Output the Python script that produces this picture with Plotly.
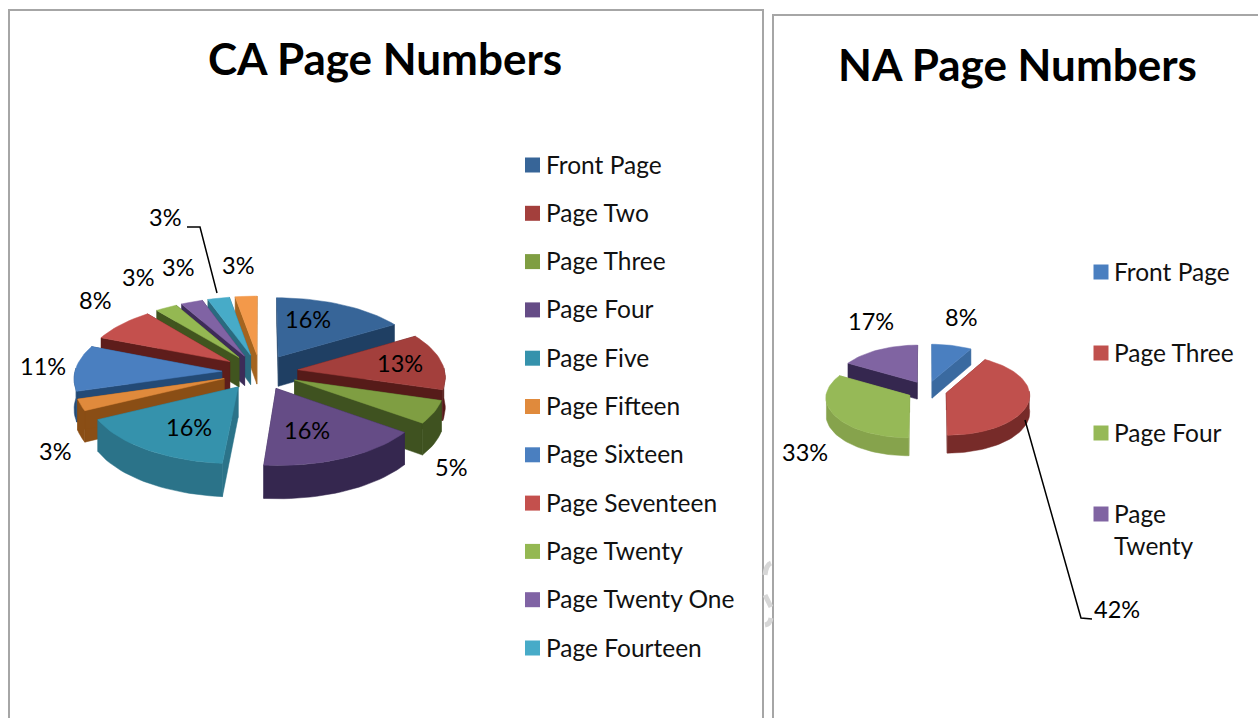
import math
import plotly.graph_objects as go

# ---- data ----
ca_title = "CA Page Numbers"
ca_categories = ["Front Page", "Page Two", "Page Three", "Page Four", "Page Five", "Page Fifteen",
                 "Page Sixteen", "Page Seventeen", "Page Twenty", "Page Twenty One", "Page Fourteen"]
ca_last_slice = "Other page"          # twelfth slice: its legend row is cut off in the reference
ca_values = [16.3, 13.4, 5.4, 16.3, 16.3, 2.7, 10.8, 8.1, 2.7, 2.7, 2.7, 2.7]

na_title = "NA Page Numbers"
na_categories = ["Front Page", "Page Three", "Page Four", "Page Twenty"]
na_values = [8.3, 41.7, 33.3, 16.7]

# ---- styles ----
FONT = "Lato"
ca_top = ["#376598", "#A33F3C", "#7F9E42", "#654C86", "#3592AC", "#E08A3C",
          "#4A7FC0", "#C4504D", "#94B852", "#8063A4", "#47ABC8", "#F3994A"]
ca_wall = ["#1F3F63", "#561B19", "#3F5220", "#35274F", "#2B7389", "#8A4E15",
           "#234A76", "#5E1D1B", "#41551F", "#3D2C58", "#2A6A7F", "#A4641F"]
ca_legend = ca_top[:11]
na_top = ["#4A7FC0", "#C0504D", "#96B957", "#8064A2"]
na_wall = ["#3A6AA0", "#772B29", "#86A34C", "#35274F"]

CA_PIE = dict(cx=260, cy=372, rx=147, ry=68, k=0.09, e=0.26, h=30)
NA_PIE = dict(cx=927, cy=390.5, rx=83, ry=40, k=0.05, e=0.24, h=17)


def project(p, X, Y, z=0):
    s = 1 + p["k"] * Y
    return p["cx"] + s * X * p["rx"], p["cy"] + s * Y * p["ry"] + z * p["h"] * s


def polygon(fig, pts, color, name):
    xs = [a for a, _ in pts] + [pts[0][0]]
    ys = [b for _, b in pts] + [pts[0][1]]
    fig.add_trace(go.Scatter(x=xs, y=ys, mode="lines", fill="toself", fillcolor=color,
                             line=dict(color=color, width=0.5), name=name,
                             hoverinfo="name", showlegend=False))


def draw_pie(fig, p, values, names, top, wall):
    total = sum(values)
    slices, acc = [], 0.0
    for v, n, t, w in zip(values, names, top, wall):
        a0 = acc / total * 2 * math.pi
        acc += v
        a1 = acc / total * 2 * math.pi
        slices.append((a0, a1, n, t, w))
    slices.sort(key=lambda c: -math.cos((c[0] + c[1]) / 2))   # back to front
    for a0, a1, n, t, w in slices:
        m = (a0 + a1) / 2
        ox, oy = p["e"] * math.sin(m), -p["e"] * math.cos(m)
        steps = max(4, int((a1 - a0) / 0.04))
        angles = [a0 + (a1 - a0) * i / steps for i in range(steps + 1)]
        rim = [(ox + math.sin(a), oy - math.cos(a)) for a in angles]
        apex = (ox, oy)
        for edge in (rim[0], rim[-1]):
            polygon(fig, [project(p, *apex), project(p, *edge), project(p, *edge, 1), project(p, *apex, 1)], w, n)
        front = [q for q, a in zip(rim, angles) if math.cos(a) < 0.05]
        if len(front) > 1:
            polygon(fig, [project(p, *q) for q in front] + [project(p, *q, 1) for q in reversed(front)], w, n)
        polygon(fig, [project(p, *apex)] + [project(p, *q) for q in rim], t, n)


fig = go.Figure()
draw_pie(fig, CA_PIE, ca_values, ca_categories + [ca_last_slice], ca_top, ca_wall)
draw_pie(fig, NA_PIE, na_values, na_categories, na_top, na_wall)

# legend swatches
ca_leg_y = [165 + 48.3 * i for i in range(len(ca_categories))]
na_leg_y = [272, 353, 433, 514]
fig.add_trace(go.Scatter(x=[532.5] * len(ca_categories), y=ca_leg_y, mode="markers", showlegend=False,
                         text=ca_categories, hoverinfo="text",
                         marker=dict(symbol="square", size=15, color=ca_legend)))
fig.add_trace(go.Scatter(x=[1101] * len(na_categories), y=na_leg_y, mode="markers", showlegend=False,
                         text=na_categories, hoverinfo="text",
                         marker=dict(symbol="square", size=15, color=na_top)))

ann = []


def text(x, y, s, size, anchor="center", color="#000000"):
    ann.append(dict(x=x, y=y, text=s, xref="x", yref="y", showarrow=False, xanchor=anchor, yanchor="middle",
                    align="left", font=dict(family=FONT, size=size, color=color)))


text(385, 58, f"<b>{ca_title}</b>", 44)
text(1017, 64, f"<b>{na_title}</b>", 44)
for name, y in zip(ca_categories, ca_leg_y):
    text(544, y - 1, name, 24.5, "left", "#111111")
for name, y in zip(na_categories, na_leg_y):
    text(1112, y - 1 + (16 if name == "Page Twenty" else 0), name.replace("Page Twenty", "Page<br>Twenty"), 24.5, "left", "#111111")

ca_label_xy = [(308, 320), (400, 364), (451, 468), (307, 431), (189, 428), (55, 452),
               (43, 367), (95, 301), (138, 278), (178, 268), (165, 218), (238, 266)]
na_label_xy = [(961, 318), (1117, 610), (805, 453), (871, 322)]
for v, (x, y) in zip(ca_values, ca_label_xy):
    text(x, y - 1, f"{round(v)}%", 23.5)
for v, (x, y) in zip(na_values, na_label_xy):
    text(x, y - 1, f"{round(v)}%", 23.5)

FRAME = dict(color="#A6A6A6", width=2)
LEADER = dict(color="#000000", width=1.5)
WM = dict(color="#D6D6D6", width=5)
shapes = [
    dict(type="path", path="M 9 718 L 9 10 L 763 10 L 763 718", line=FRAME),
    dict(type="path", path="M 773 718 L 773 15 L 1258 15", line=FRAME),
    dict(type="path", path="M 187 227 L 200 227 L 217 293", line=LEADER),
    dict(type="path", path="M 1025 420 L 1081 618 L 1092 619", line=LEADER),
    dict(type="path", path="M 771 563 Q 766 565 765 575", line=WM),
    dict(type="path", path="M 765 595 Q 768 601 771 607", line=WM),
    dict(type="path", path="M 765 625 Q 770 624 771 618", line=WM),
]

fig.update_layout(
    width=1258, height=718, margin=dict(l=0, r=0, t=0, b=0),
    paper_bgcolor="#FFFFFF", plot_bgcolor="#FFFFFF", showlegend=False,
    xaxis=dict(range=[0, 1258], visible=False, fixedrange=True),
    yaxis=dict(range=[718, 0], visible=False, fixedrange=True),
    annotations=ann, shapes=shapes,
)
fig.write_html("out.html", config={"displayModeBar": False},
               post_script="document.body.style.margin='0';document.body.style.overflow='hidden';")
